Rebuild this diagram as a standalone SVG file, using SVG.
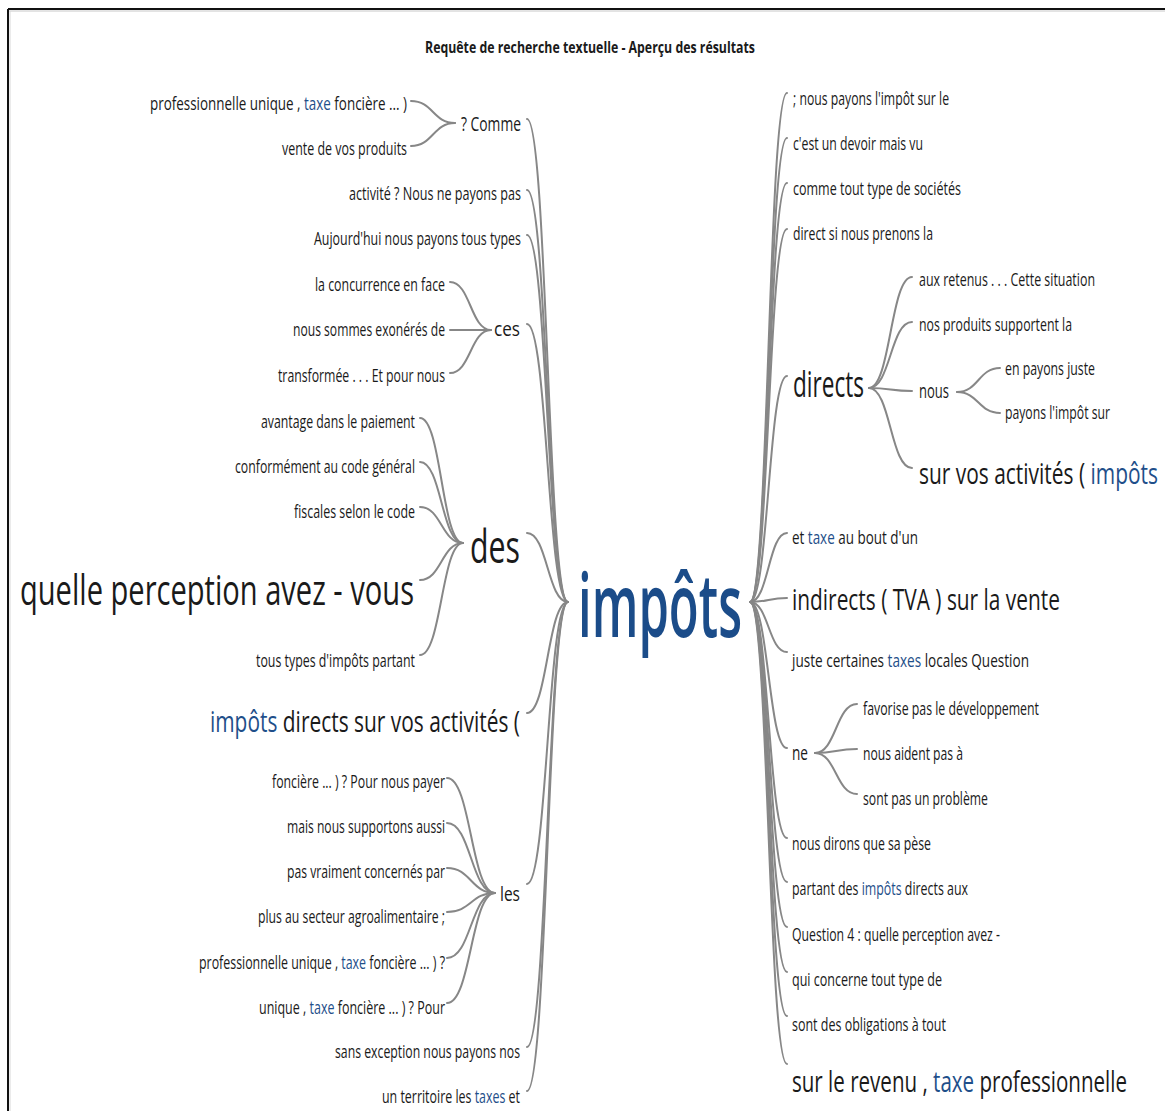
<svg xmlns="http://www.w3.org/2000/svg" width="1165" height="1111" viewBox="0 0 1165 1111">
<style>
.t{font-family:"Open Sans","Liberation Sans",sans-serif;fill:#1a1a1a}
.s18{font-size:18px}.s20{font-size:20px}.s30{font-size:30px}.s36{font-size:36px}.s42{font-size:42px}.s45{font-size:45px}
.hl{fill:#1f4f8a}
.root{font-size:88px;font-weight:600;fill:#1b4c89}
.title{font-size:16px;font-weight:700}
.c{fill:none;stroke:#878787;stroke-width:2;stroke-linecap:round}
</style>
<rect x="0" y="0" width="1165" height="1111" fill="#ffffff"/>
<g id="frame">
<line x1="8" y1="9" x2="1165" y2="9" stroke="#111" stroke-width="2"/>
<line x1="9" y1="11" x2="1165" y2="11" stroke="#c8c8c8" stroke-width="1"/>
<line x1="8" y1="9" x2="8" y2="1111" stroke="#111" stroke-width="2"/>
<line x1="10" y1="11" x2="10" y2="1111" stroke="#d8d8d8" stroke-width="1"/>
</g>
<text id="title" class="t title" transform="scale(0.6 1)" x="708.33" y="53" textLength="550" lengthAdjust="spacingAndGlyphs">Requête de recherche textuelle - Aperçu des résultats</text>
<g id="connectors">
<path class="c" d="M527,119 C547.5,119 547.5,602 568,602"/>
<path class="c" d="M527,190 C547.5,190 547.5,602 568,602"/>
<path class="c" d="M527,235 C547.5,235 547.5,602 568,602"/>
<path class="c" d="M527,324 C547.5,324 547.5,602 568,602"/>
<path class="c" d="M527,533 C547.5,533 547.5,602 568,602"/>
<path class="c" d="M527,713 C547.5,713 547.5,602 568,602"/>
<path class="c" d="M527,884 C547.5,884 547.5,602 568,602"/>
<path class="c" d="M527,1047 C547.5,1047 547.5,602 568,602"/>
<path class="c" d="M527,1091 C547.5,1091 547.5,602 568,602"/>
<path class="c" d="M750,602 C768.5,602 768.5,93 787,93"/>
<path class="c" d="M750,602 C768.5,602 768.5,138 787,138"/>
<path class="c" d="M750,602 C768.5,602 768.5,183 787,183"/>
<path class="c" d="M750,602 C768.5,602 768.5,229 787,229"/>
<path class="c" d="M750,602 C768.5,602 768.5,376 787,376"/>
<path class="c" d="M750,602 C768.5,602 768.5,533 787,533"/>
<path class="c" d="M750,602 C768.5,602 768.5,598 787,598"/>
<path class="c" d="M750,602 C768.5,602 768.5,652 787,652"/>
<path class="c" d="M750,602 C768.5,602 768.5,748 787,748"/>
<path class="c" d="M750,602 C768.5,602 768.5,838 787,838"/>
<path class="c" d="M750,602 C768.5,602 768.5,882 787,882"/>
<path class="c" d="M750,602 C768.5,602 768.5,927 787,927"/>
<path class="c" d="M750,602 C768.5,602 768.5,972 787,972"/>
<path class="c" d="M750,602 C768.5,602 768.5,1016 787,1016"/>
<path class="c" d="M750,602 C768.5,602 768.5,1064 787,1064"/>
<path class="c" d="M411,101 C433,101 433,123 455,123"/>
<path class="c" d="M411,146 C433,146 433,123 455,123"/>
<path class="c" d="M450,282 C470.5,282 470.5,330 491,330"/>
<path class="c" d="M450,330 L491,330"/>
<path class="c" d="M450,373 C470.5,373 470.5,330 491,330"/>
<path class="c" d="M420,418 C441.5,418 441.5,543 463,543"/>
<path class="c" d="M420,462 C441.5,462 441.5,543 463,543"/>
<path class="c" d="M420,507 C441.5,507 441.5,543 463,543"/>
<path class="c" d="M420,580 C441.5,580 441.5,543 463,543"/>
<path class="c" d="M420,655 C441.5,655 441.5,543 463,543"/>
<path class="c" d="M447,778 C471,778 471,893 495,893"/>
<path class="c" d="M447,823 C471,823 471,893 495,893"/>
<path class="c" d="M447,868 C471,868 471,893 495,893"/>
<path class="c" d="M447,912 C471,912 471,893 495,893"/>
<path class="c" d="M447,958 C471,958 471,893 495,893"/>
<path class="c" d="M447,1003 C471,1003 471,893 495,893"/>
<path class="c" d="M869,388 C890.5,388 890.5,277 912,277"/>
<path class="c" d="M869,388 C890.5,388 890.5,322 912,322"/>
<path class="c" d="M869,388 C890.5,388 890.5,391 912,391"/>
<path class="c" d="M869,388 C890.5,388 890.5,468 912,468"/>
<path class="c" d="M957,392 C978.5,392 978.5,368 1000,368"/>
<path class="c" d="M957,392 C978.5,392 978.5,413 1000,413"/>
<path class="c" d="M815,753 C836,753 836,704 857,704"/>
<path class="c" d="M815,753 C836,753 836,749 857,749"/>
<path class="c" d="M815,753 C836,753 836,794 857,794"/>
</g>
<g id="n-root"><text class="t root" transform="scale(0.6 1)" x="963.33" y="637" textLength="273.33" lengthAdjust="spacingAndGlyphs">impôts</text></g>
<g id="n-comme"><text class="t s20" transform="scale(0.6 1)" x="768.33" y="131" textLength="100" lengthAdjust="spacingAndGlyphs">? Comme</text></g>
<g id="n-comme-1"><text class="t s18" transform="scale(0.6 1)" x="250" y="110" textLength="428.33" lengthAdjust="spacingAndGlyphs">professionnelle unique , <tspan class="hl">taxe</tspan> foncière ... )</text></g>
<g id="n-comme-2"><text class="t s18" transform="scale(0.6 1)" x="470" y="155" textLength="208.33" lengthAdjust="spacingAndGlyphs">vente de vos produits</text></g>
<g id="n-activite"><text class="t s18" transform="scale(0.6 1)" x="581.67" y="200" textLength="286.67" lengthAdjust="spacingAndGlyphs">activité ? Nous ne payons pas</text></g>
<g id="n-aujourdhui"><text class="t s18" transform="scale(0.6 1)" x="523.33" y="245" textLength="345" lengthAdjust="spacingAndGlyphs">Aujourd'hui nous payons tous types</text></g>
<g id="n-ces"><text class="t s20" transform="scale(0.6 1)" x="823.33" y="336" textLength="43.33" lengthAdjust="spacingAndGlyphs">ces</text></g>
<g id="n-ces-1"><text class="t s18" transform="scale(0.6 1)" x="525" y="291" textLength="216.67" lengthAdjust="spacingAndGlyphs">la concurrence en face</text></g>
<g id="n-ces-2"><text class="t s18" transform="scale(0.6 1)" x="488.33" y="336" textLength="253.33" lengthAdjust="spacingAndGlyphs">nous sommes exonérés de</text></g>
<g id="n-ces-3"><text class="t s18" transform="scale(0.6 1)" x="463.33" y="382" textLength="278.33" lengthAdjust="spacingAndGlyphs">transformée . . . Et pour nous</text></g>
<g id="n-des"><text class="t s45" transform="scale(0.6 1)" x="783.33" y="563" textLength="83.33" lengthAdjust="spacingAndGlyphs">des</text></g>
<g id="n-des-1"><text class="t s18" transform="scale(0.6 1)" x="435" y="428" textLength="256.67" lengthAdjust="spacingAndGlyphs">avantage dans le paiement</text></g>
<g id="n-des-2"><text class="t s18" transform="scale(0.6 1)" x="391.67" y="473" textLength="300" lengthAdjust="spacingAndGlyphs">conformément au code général</text></g>
<g id="n-des-3"><text class="t s18" transform="scale(0.6 1)" x="490" y="518" textLength="201.67" lengthAdjust="spacingAndGlyphs">fiscales selon le code</text></g>
<g id="n-des-4"><text class="t s42" transform="scale(0.6 1)" x="33.33" y="605" textLength="656.67" lengthAdjust="spacingAndGlyphs">quelle perception avez - vous</text></g>
<g id="n-des-5"><text class="t s18" transform="scale(0.6 1)" x="426.67" y="667" textLength="265" lengthAdjust="spacingAndGlyphs">tous types d'impôts partant</text></g>
<g id="n-impdirects"><text class="t s30" transform="scale(0.6 1)" x="350" y="732" textLength="516.67" lengthAdjust="spacingAndGlyphs"><tspan class="hl">impôts</tspan> directs sur vos activités (</text></g>
<g id="n-les"><text class="t s20" transform="scale(0.6 1)" x="833.33" y="901" textLength="33.33" lengthAdjust="spacingAndGlyphs">les</text></g>
<g id="n-les-1"><text class="t s18" transform="scale(0.6 1)" x="453.33" y="788" textLength="288.33" lengthAdjust="spacingAndGlyphs">foncière ... ) ? Pour nous payer</text></g>
<g id="n-les-2"><text class="t s18" transform="scale(0.6 1)" x="478.33" y="833" textLength="263.33" lengthAdjust="spacingAndGlyphs">mais nous supportons aussi</text></g>
<g id="n-les-3"><text class="t s18" transform="scale(0.6 1)" x="478.33" y="878" textLength="263.33" lengthAdjust="spacingAndGlyphs">pas vraiment concernés par</text></g>
<g id="n-les-4"><text class="t s18" transform="scale(0.6 1)" x="430" y="923" textLength="311.67" lengthAdjust="spacingAndGlyphs">plus au secteur agroalimentaire ;</text></g>
<g id="n-les-5"><text class="t s18" transform="scale(0.6 1)" x="331.67" y="969" textLength="410" lengthAdjust="spacingAndGlyphs">professionnelle unique , <tspan class="hl">taxe</tspan> foncière ... ) ?</text></g>
<g id="n-les-6"><text class="t s18" transform="scale(0.6 1)" x="431.67" y="1014" textLength="310" lengthAdjust="spacingAndGlyphs">unique , <tspan class="hl">taxe</tspan> foncière ... ) ? Pour</text></g>
<g id="n-sans"><text class="t s18" transform="scale(0.6 1)" x="558.33" y="1058" textLength="308.33" lengthAdjust="spacingAndGlyphs">sans exception nous payons nos</text></g>
<g id="n-territoire"><text class="t s18" transform="scale(0.6 1)" x="636.67" y="1103" textLength="230" lengthAdjust="spacingAndGlyphs">un territoire les <tspan class="hl">taxes</tspan> et</text></g>
<g id="n-r1"><text class="t s18" transform="scale(0.6 1)" x="1321.67" y="105" textLength="260" lengthAdjust="spacingAndGlyphs">; nous payons l'impôt sur le</text></g>
<g id="n-r2"><text class="t s18" transform="scale(0.6 1)" x="1321.67" y="150" textLength="216.67" lengthAdjust="spacingAndGlyphs">c'est un devoir mais vu</text></g>
<g id="n-r3"><text class="t s18" transform="scale(0.6 1)" x="1321.67" y="195" textLength="280" lengthAdjust="spacingAndGlyphs">comme tout type de sociétés</text></g>
<g id="n-r4"><text class="t s18" transform="scale(0.6 1)" x="1321.67" y="240" textLength="233.33" lengthAdjust="spacingAndGlyphs">direct si nous prenons la</text></g>
<g id="n-directs"><text class="t s36" transform="scale(0.6 1)" x="1321.67" y="397" textLength="118.33" lengthAdjust="spacingAndGlyphs">directs</text></g>
<g id="n-directs-1"><text class="t s18" transform="scale(0.6 1)" x="1531.67" y="286" textLength="293.33" lengthAdjust="spacingAndGlyphs">aux retenus . . . Cette situation</text></g>
<g id="n-directs-2"><text class="t s18" transform="scale(0.6 1)" x="1531.67" y="331" textLength="255" lengthAdjust="spacingAndGlyphs">nos produits supportent la</text></g>
<g id="n-nous"><text class="t s20" transform="scale(0.6 1)" x="1531.67" y="398" textLength="50" lengthAdjust="spacingAndGlyphs">nous</text></g>
<g id="n-nous-1"><text class="t s18" transform="scale(0.6 1)" x="1675" y="375" textLength="150" lengthAdjust="spacingAndGlyphs">en payons juste</text></g>
<g id="n-nous-2"><text class="t s18" transform="scale(0.6 1)" x="1675" y="419" textLength="175" lengthAdjust="spacingAndGlyphs">payons l'impôt sur</text></g>
<g id="n-directs-4"><text class="t s30" transform="scale(0.6 1)" x="1531.67" y="484" textLength="398.33" lengthAdjust="spacingAndGlyphs">sur vos activités ( <tspan class="hl">impôts</tspan></text></g>
<g id="n-r5"><text class="t s18" transform="scale(0.6 1)" x="1320" y="544" textLength="210" lengthAdjust="spacingAndGlyphs">et <tspan class="hl">taxe</tspan> au bout d'un</text></g>
<g id="n-r6"><text class="t s30" transform="scale(0.6 1)" x="1320" y="610" textLength="446.67" lengthAdjust="spacingAndGlyphs">indirects ( TVA ) sur la vente</text></g>
<g id="n-r7"><text class="t s18" transform="scale(0.6 1)" x="1320" y="667" textLength="395" lengthAdjust="spacingAndGlyphs">juste certaines <tspan class="hl">taxes</tspan> locales Question</text></g>
<g id="n-ne"><text class="t s20" transform="scale(0.6 1)" x="1320" y="760" textLength="26.67" lengthAdjust="spacingAndGlyphs">ne</text></g>
<g id="n-ne-1"><text class="t s18" transform="scale(0.6 1)" x="1438.33" y="715" textLength="293.33" lengthAdjust="spacingAndGlyphs">favorise pas le développement</text></g>
<g id="n-ne-2"><text class="t s18" transform="scale(0.6 1)" x="1438.33" y="760" textLength="166.67" lengthAdjust="spacingAndGlyphs">nous aident pas à</text></g>
<g id="n-ne-3"><text class="t s18" transform="scale(0.6 1)" x="1438.33" y="805" textLength="208.33" lengthAdjust="spacingAndGlyphs">sont pas un problème</text></g>
<g id="n-r8"><text class="t s18" transform="scale(0.6 1)" x="1320" y="850" textLength="231.67" lengthAdjust="spacingAndGlyphs">nous dirons que sa pèse</text></g>
<g id="n-r9"><text class="t s18" transform="scale(0.6 1)" x="1320" y="895" textLength="293.33" lengthAdjust="spacingAndGlyphs">partant des <tspan class="hl">impôts</tspan> directs aux</text></g>
<g id="n-r10"><text class="t s18" transform="scale(0.6 1)" x="1320" y="941" textLength="346.67" lengthAdjust="spacingAndGlyphs">Question 4 : quelle perception avez -</text></g>
<g id="n-r11"><text class="t s18" transform="scale(0.6 1)" x="1320" y="986" textLength="250" lengthAdjust="spacingAndGlyphs">qui concerne tout type de</text></g>
<g id="n-r12"><text class="t s18" transform="scale(0.6 1)" x="1320" y="1031" textLength="256.67" lengthAdjust="spacingAndGlyphs">sont des obligations à tout</text></g>
<g id="n-r13"><text class="t s30" transform="scale(0.6 1)" x="1320" y="1092" textLength="558.33" lengthAdjust="spacingAndGlyphs">sur le revenu , <tspan class="hl">taxe</tspan> professionnelle</text></g>
</svg>
